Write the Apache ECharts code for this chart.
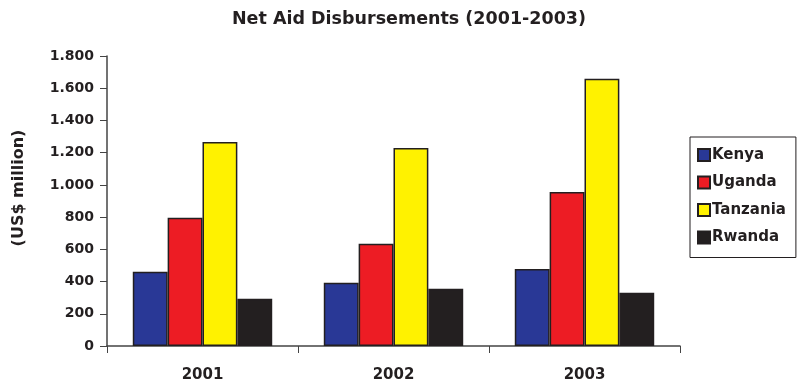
<!DOCTYPE html>
<html>
<head>
<meta charset="utf-8">
<script src="https://cdn.jsdelivr.net/npm/echarts@6/dist/echarts.min.js"></script>
<style>
  html, body { margin: 0; padding: 0; background: #fff; }
  #chart { width: 798px; height: 386px; }
</style>
</head>
<body>
<div id="chart"></div>
<script>
// data (US$ million)
var years = ['2001', '2002', '2003'];
var kenya = [461, 393, 478];
var uganda = [796, 635, 956];
var tanzania = [1266, 1229, 1659];
var rwanda = [294, 356, 331];

var font = 'DejaVu Sans, sans-serif';
var ink = '#231f20';

function dots(v) {
  return String(v).replace(/\B(?=(\d{3})+(?!\d))/g, '.');
}

function bar(name, data, color) {
  return {
    name: name,
    type: 'bar',
    data: data,
    barGap: '0%',
    barCategoryGap: '27%',
    itemStyle: { color: color, borderColor: ink, borderWidth: 1.5 }
  };
}

var myChart = echarts.init(document.getElementById('chart'));
myChart.setOption({
  animation: false,
  textStyle: { fontFamily: font },
  title: {
    text: 'Net Aid Disbursements (2001-2003)',
    left: 404, top: 5, textAlign: 'center',
    textStyle: { fontFamily: font, fontSize: 17.5, fontWeight: 'bold', color: ink }
  },
  // y axis title sits a bit above the middle of the axis
  graphic: [{
    type: 'text',
    x: 19, y: 188,
    rotation: Math.PI / 2,
    style: {
      text: '(US$ million)',
      font: 'bold 16px DejaVu Sans, sans-serif',
      fill: ink,
      align: 'center',
      verticalAlign: 'middle'
    }
  }],
  grid: { left: 107, right: 118, top: 56, bottom: 40 },
  legend: {
    orient: 'vertical',
    left: 690, top: 137,
    padding: [10, 10, 12, 7],
    itemGap: 11.5,
    itemWidth: 12, itemHeight: 12,
    icon: 'rect',
    borderColor: ink, borderWidth: 1,
    textStyle: { fontFamily: font, fontSize: 15, lineHeight: 16, fontWeight: 'bold', color: ink, padding: [0, 0, 0, -3] }
  },
  xAxis: {
    type: 'category',
    data: years,
    axisLine: { lineStyle: { color: '#444', width: 1.5 } },
    axisTick: { show: true, length: 7, lineStyle: { color: '#444' } },
    axisLabel: { fontFamily: font, fontSize: 15, fontWeight: 'bold', color: ink, margin: 22 }
  },
  yAxis: {
    type: 'value',
    min: 0, max: 1800, interval: 200,
    splitLine: { show: false },
    axisLine: { show: true, lineStyle: { color: '#444', width: 1.5 } },
    axisTick: { show: true, length: 7, lineStyle: { color: '#444' } },
    axisLabel: {
      fontFamily: font, fontSize: 14, fontWeight: 'bold', color: ink, margin: 13,
      formatter: dots
    }
  },
  series: [
    bar('Kenya', kenya, '#293896'),
    bar('Uganda', uganda, '#ed1c24'),
    bar('Tanzania', tanzania, '#fff200'),
    bar('Rwanda', rwanda, ink)
  ]
});
</script>
</body>
</html>
